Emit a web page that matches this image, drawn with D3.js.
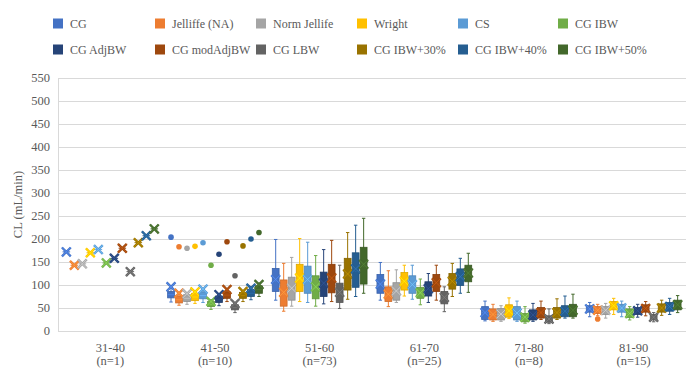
<!DOCTYPE html>
<html>
<head>
<meta charset="utf-8">
<script src="https://cdn.jsdelivr.net/npm/d3@7"></script>
<style>
  body { margin: 0; background: #fff; }
  svg text { font-family: 'Liberation Serif', 'Times New Roman', serif; fill: #595959; }
</style>
</head>
<body>
<div id="chart"></div>
<script>
const categories = ['31-40', '41-50', '51-60', '61-70', '71-80', '81-90'];
const counts = ['(n=1)', '(n=10)', '(n=73)', '(n=25)', '(n=8)', '(n=15)'];
const series = ['CG', 'Jelliffe (NA)', 'Norm Jellife', 'Wright', 'CS', 'CG IBW',
  'CG AdjBW', 'CG modAdjBW', 'CG LBW', 'CG IBW+30%', 'CG IBW+40%', 'CG IBW+50%'];
const colors = ['#4472C4', '#ED7D31', '#A5A5A5', '#FFC000', '#5B9BD5', '#70AD47',
  '#264478', '#9E480E', '#636363', '#997300', '#255E91', '#43682B'];
const yTicks = [0, 50, 100, 150, 200, 250, 300, 350, 400, 450, 500, 550];

// one row per age group, one value per series
const whiskerLow = [
  [172, 143, 146, 170, 177, 148, 158, 180, 129, 192, 207, 222],
  [63, 56, 58, 60, 62, 47, 55, 64, 40, 64, 68, 75],
  [67, 43, 54, 64, 62, 54, 59, 64, 49, 69, 75, 82],
  [67, 53, 62, 76, 69, 57, 62, 67, 42, 75, 82, 84],
  [22, 21, 21, 27, 21, 17, 21, 25, 16, 25, 28, 28],
  [31, 33, 28, 36, 31, 24, 30, 33, 20, 34, 36, 40]
];
const q1 = [
  [172, 143, 146, 170, 177, 148, 158, 180, 129, 192, 207, 222],
  [72, 61, 64, 66, 70, 53, 62, 71, 46, 71, 75, 82],
  [86, 54, 67, 86, 82, 70, 75, 83, 62, 89, 95, 102],
  [82, 64, 67, 89, 82, 71, 76, 86, 59, 91, 99, 107],
  [25, 24, 24, 30, 24, 20, 24, 28, 19, 28, 31, 31],
  [41, 38, 36, 46, 41, 29, 36, 41, 24, 41, 43, 46]
];
const medians = [
  [172, 143, 146, 170, 177, 148, 158, 180, 129, 192, 207, 222],
  [79, 68, 71, 74, 77, 58, 69, 78, 51, 77, 82, 90],
  [108, 80, 90, 112, 108, 93, 100, 112, 80, 120, 130, 140],
  [100, 78, 85, 107, 100, 82, 90, 103, 72, 107, 116, 124],
  [40, 36, 36, 44, 38, 29, 35, 40, 26, 40, 43, 45],
  [48, 45, 45, 55, 50, 38, 44, 49, 30, 50, 53, 56]
];
const q3 = [
  [172, 143, 146, 170, 177, 148, 158, 180, 129, 192, 207, 222],
  [86, 76, 79, 82, 85, 64, 76, 85, 57, 84, 90, 98],
  [136, 111, 117, 145, 141, 120, 128, 145, 104, 158, 170, 182],
  [123, 96, 105, 127, 120, 95, 107, 123, 86, 125, 135, 143],
  [53, 48, 49, 57, 53, 38, 46, 51, 33, 51, 55, 58],
  [55, 53, 53, 64, 58, 48, 51, 57, 36, 59, 62, 67]
];
const whiskerHigh = [
  [172, 143, 146, 170, 177, 148, 158, 180, 129, 192, 207, 222],
  [94, 80, 82, 86, 90, 68, 80, 88, 60, 88, 96, 104],
  [199, 147, 160, 201, 193, 164, 177, 197, 143, 214, 230, 245],
  [149, 131, 133, 143, 143, 113, 125, 143, 96, 147, 158, 169],
  [65, 58, 55, 72, 65, 53, 60, 65, 48, 70, 76, 80],
  [62, 58, 60, 71, 65, 53, 58, 64, 40, 67, 71, 77]
];
const means = [
  [172, 143, 146, 170, 177, 148, 158, 180, 129, 192, 207, 222],
  [96, 82, 81, 85, 91, 64, 79, 90, 60, 86, 93, 101],
  [112, 84, 93, 115, 112, 96, 104, 115, 84, 124, 135, 145],
  [102, 80, 87, 108, 101, 83, 92, 105, 73, 108, 118, 126],
  [40, 36, 37, 44, 39, 30, 35, 40, 26, 40, 43, 45],
  [48, 45, 45, 55, 50, 38, 44, 49, 30, 50, 53, 57]
];
const outliers = [
  [],
  [204, 183, 180, 184, 192, 143, 167, 194, 120, 185, 200, 214],
  [],
  [],
  [],
  [null, 26, null, null, null, null, null, null, null, null, null, null]
];

const width = 697, height = 374;
const margin = { top: 78, right: 11, bottom: 43, left: 58 };
const font = "'Liberation Serif', 'Times New Roman', serif";

const svg = d3.select('#chart').append('svg')
  .attr('width', width)
  .attr('height', height)
  .attr('font-family', font)
  .style('background', '#fff');

const x0 = d3.scaleBand().domain(categories).range([margin.left, width - margin.right]);
const x1 = d3.scaleBand().domain(series).range([0, x0.bandwidth()])
  .paddingInner(0.15).paddingOuter(0.62);
const y = d3.scaleLinear().domain([0, 550]).range([height - margin.bottom, margin.top]);

// gridlines
svg.append('g')
  .selectAll('line')
  .data(yTicks)
  .join('line')
  .attr('x1', margin.left)
  .attr('x2', width - margin.right)
  .attr('y1', d => y(d) + 0.5)
  .attr('y2', d => y(d) + 0.5)
  .attr('stroke', '#D9D9D9')
  .attr('stroke-width', 1);

svg.append('line')
  .attr('x1', margin.left + 0.5).attr('x2', margin.left + 0.5)
  .attr('y1', y(550)).attr('y2', y(0))
  .attr('stroke', '#D9D9D9');

// y tick labels
svg.append('g')
  .selectAll('text')
  .data(yTicks)
  .join('text')
  .attr('x', margin.left - 8)
  .attr('y', d => y(d) + 4)
  .attr('text-anchor', 'end')
  .style('font-size', '12.5px')
  .text(d => d);

svg.append('text')
  .attr('transform', `translate(22,${(y(0) + y(550)) / 2}) rotate(-90)`)
  .attr('text-anchor', 'middle')
  .style('font-size', '12.5px')
  .text('CL (mL/min)');

// x labels
const xl = svg.append('g').selectAll('g')
  .data(categories)
  .join('g')
  .attr('transform', d => `translate(${x0(d) + x0.bandwidth() / 2},0)`);
xl.append('text')
  .attr('y', 352).attr('text-anchor', 'middle').style('font-size', '12.5px')
  .text(d => d);
xl.append('text')
  .attr('y', 365).attr('text-anchor', 'middle').style('font-size', '12.5px')
  .text((d, i) => counts[i]);

// boxes
const boxes = [];
categories.forEach((c, ci) => {
  series.forEach((s, si) => {
    boxes.push({
      ci, si, c, s,
      lo: whiskerLow[ci][si], q1: q1[ci][si], med: medians[ci][si],
      q3: q3[ci][si], hi: whiskerHigh[ci][si], mean: means[ci][si],
      out: outliers[ci][si]
    });
  });
});

const bw = x1.bandwidth();
const g = svg.append('g')
  .selectAll('g')
  .data(boxes)
  .join('g')
  .attr('transform', d => `translate(${x0(d.c) + x1(d.s)},0)`);

// whiskers
g.append('line')
  .attr('x1', bw / 2).attr('x2', bw / 2)
  .attr('y1', d => y(d.hi)).attr('y2', d => y(d.lo))
  .attr('stroke', d => colors[d.si]).attr('stroke-width', 1);
g.append('line')
  .attr('x1', bw * 0.25).attr('x2', bw * 0.75)
  .attr('y1', d => y(d.hi)).attr('y2', d => y(d.hi))
  .attr('stroke', d => colors[d.si]).attr('stroke-width', 1);
g.append('line')
  .attr('x1', bw * 0.25).attr('x2', bw * 0.75)
  .attr('y1', d => y(d.lo)).attr('y2', d => y(d.lo))
  .attr('stroke', d => colors[d.si]).attr('stroke-width', 1);

g.append('rect')
  .attr('x', 0)
  .attr('width', bw)
  .attr('y', d => y(d.q3))
  .attr('height', d => Math.max(y(d.q1) - y(d.q3), 0.01))
  .attr('fill', d => colors[d.si])
  .attr('stroke', d => d3.color(colors[d.si]).darker(0.4))
  .attr('stroke-width', 0.8);

g.append('line')
  .attr('x1', 0).attr('x2', bw)
  .attr('y1', d => y(d.med)).attr('y2', d => y(d.med))
  .attr('stroke', d => d3.color(colors[d.si]).brighter(0.5))
  .attr('stroke-width', 0.8);

// mean markers (X)
const mk = 4.4;
const xPath = d => {
  const cx = bw / 2, cy = y(d.mean);
  return `M${cx - mk},${cy - mk}L${cx + mk},${cy + mk}M${cx - mk},${cy + mk}L${cx + mk},${cy - mk}`;
};
g.append('path')
  .attr('d', xPath)
  .attr('stroke', d => colors[d.si])
  .attr('stroke-width', 2.4)
  .attr('fill', 'none');
g.append('path')
  .attr('d', xPath)
  .attr('stroke', d => d3.color(colors[d.si]).brighter(0.7))
  .attr('stroke-width', 0.8)
  .attr('fill', 'none');

// outliers
g.filter(d => d.out != null)
  .append('circle')
  .attr('cx', bw / 2)
  .attr('cy', d => y(d.out))
  .attr('r', 2.8)
  .attr('fill', d => colors[d.si]);

// legend
const legendX = [53, 155, 256, 357, 458, 558];
const legend = svg.append('g')
  .selectAll('g')
  .data(series)
  .join('g')
  .attr('transform', (d, i) => `translate(${legendX[i % 6]},${i < 6 ? 24 : 50})`);
legend.append('rect')
  .attr('x', 0).attr('y', -5.5)
  .attr('width', 10).attr('height', 10)
  .attr('fill', (d, i) => colors[i]);
legend.append('text')
  .attr('x', 17).attr('y', 4)
  .style('font-size', '12px')
  .text(d => d);
</script>
</body>
</html>
